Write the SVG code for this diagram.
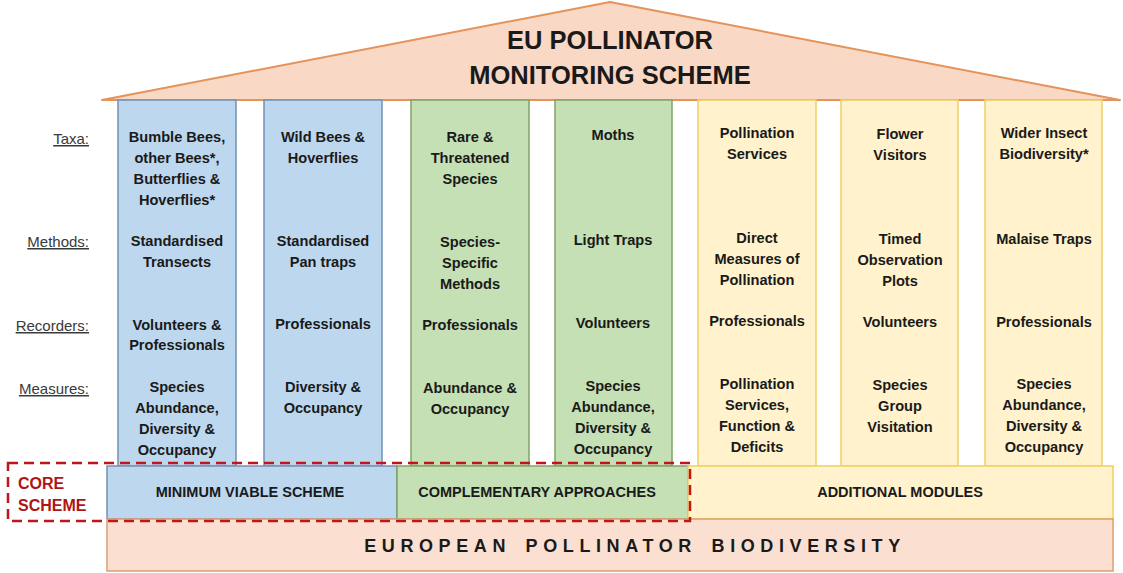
<svg xmlns="http://www.w3.org/2000/svg" width="1123" height="573" viewBox="0 0 1123 573">
<style>
.t{font-family:"Liberation Sans",Arial,sans-serif;font-weight:bold;font-size:14.6px;fill:#1a1a1a;text-anchor:middle}
.title{font-size:25.5px}
.base{font-size:18px;letter-spacing:5.6px;word-spacing:4px}
.core{font-size:16px;text-anchor:start;fill:#B01515}
.lab{font-family:"Liberation Sans",Arial,sans-serif;font-size:15px;fill:#3a3a3a;text-anchor:end;text-decoration:underline}
.bar{font-family:"Liberation Sans",Arial,sans-serif;font-weight:bold;font-size:14.5px;fill:#1a1a1a;text-anchor:middle}
.blue{fill:#BDD7EE;stroke:#7391B5;stroke-width:1.5}
.green{fill:#C5E0B4;stroke:#7EA566;stroke-width:1.5}
.yellow{fill:#FFF2CC;stroke:#F2CF62;stroke-width:1.5}
.peach{fill:#FBE0D2;stroke:#D9A070;stroke-width:1.5}
</style>
<rect width="1123" height="573" fill="#ffffff"/>
<g id="roof">
<polygon points="102,100 610,2 1120,100" fill="#F9D8C5" stroke="#E4935B" stroke-width="2" stroke-linejoin="round"/>
<text class="t title" x="610" y="49">EU POLLINATOR</text>
<text class="t title" x="610" y="84">MONITORING SCHEME</text>
</g>
<g id="row-labels">
<text class="lab" x="89" y="144">Taxa:</text>
<text class="lab" x="89" y="247">Methods:</text>
<text class="lab" x="89" y="331">Recorders:</text>
<text class="lab" x="89" y="394">Measures:</text>
</g>
<g id="pillar1">
<rect class="blue" x="118" y="100" width="118" height="366"/>
<text class="t" x="177" y="142">Bumble Bees,</text>
<text class="t" x="177" y="163">other Bees*,</text>
<text class="t" x="177" y="184">Butterflies &amp;</text>
<text class="t" x="177" y="205">Hoverflies*</text>
<text class="t" x="177" y="246">Standardised</text>
<text class="t" x="177" y="267">Transects</text>
<text class="t" x="177" y="330">Volunteers &amp;</text>
<text class="t" x="177" y="350">Professionals</text>
<text class="t" x="177" y="392">Species</text>
<text class="t" x="177" y="413">Abundance,</text>
<text class="t" x="177" y="434">Diversity &amp;</text>
<text class="t" x="177" y="455">Occupancy</text>
</g>
<g id="pillar2">
<rect class="blue" x="264" y="100" width="118" height="366"/>
<text class="t" x="323" y="142">Wild Bees &amp;</text>
<text class="t" x="323" y="163">Hoverflies</text>
<text class="t" x="323" y="246">Standardised</text>
<text class="t" x="323" y="267">Pan traps</text>
<text class="t" x="323" y="329">Professionals</text>
<text class="t" x="323" y="392">Diversity &amp;</text>
<text class="t" x="323" y="413">Occupancy</text>
</g>
<g id="pillar3">
<rect class="green" x="411" y="100" width="118" height="366"/>
<text class="t" x="470" y="142">Rare &amp;</text>
<text class="t" x="470" y="163">Threatened</text>
<text class="t" x="470" y="184">Species</text>
<text class="t" x="470" y="247">Species-</text>
<text class="t" x="470" y="268">Specific</text>
<text class="t" x="470" y="289">Methods</text>
<text class="t" x="470" y="330">Professionals</text>
<text class="t" x="470" y="393">Abundance &amp;</text>
<text class="t" x="470" y="414">Occupancy</text>
</g>
<g id="pillar4">
<rect class="green" x="555" y="100" width="117" height="366"/>
<text class="t" x="613" y="140">Moths</text>
<text class="t" x="613" y="245">Light Traps</text>
<text class="t" x="613" y="328">Volunteers</text>
<text class="t" x="613" y="391">Species</text>
<text class="t" x="613" y="412">Abundance,</text>
<text class="t" x="613" y="433">Diversity &amp;</text>
<text class="t" x="613" y="454">Occupancy</text>
</g>
<g id="pillar5">
<rect class="yellow" x="698" y="100" width="118" height="366"/>
<text class="t" x="757" y="138">Pollination</text>
<text class="t" x="757" y="159">Services</text>
<text class="t" x="757" y="243">Direct</text>
<text class="t" x="757" y="264">Measures of</text>
<text class="t" x="757" y="285">Pollination</text>
<text class="t" x="757" y="326">Professionals</text>
<text class="t" x="757" y="389">Pollination</text>
<text class="t" x="757" y="410">Services,</text>
<text class="t" x="757" y="431">Function &amp;</text>
<text class="t" x="757" y="452">Deficits</text>
</g>
<g id="pillar6">
<rect class="yellow" x="841" y="100" width="117" height="366"/>
<text class="t" x="900" y="139">Flower</text>
<text class="t" x="900" y="160">Visitors</text>
<text class="t" x="900" y="244">Timed</text>
<text class="t" x="900" y="265">Observation</text>
<text class="t" x="900" y="286">Plots</text>
<text class="t" x="900" y="327">Volunteers</text>
<text class="t" x="900" y="390">Species</text>
<text class="t" x="900" y="411">Group</text>
<text class="t" x="900" y="432">Visitation</text>
</g>
<g id="pillar7">
<rect class="yellow" x="985" y="100" width="117" height="366"/>
<text class="t" x="1044" y="138">Wider Insect</text>
<text class="t" x="1044" y="159">Biodiversity*</text>
<text class="t" x="1044" y="244">Malaise Traps</text>
<text class="t" x="1044" y="327">Professionals</text>
<text class="t" x="1044" y="389">Species</text>
<text class="t" x="1044" y="410">Abundance,</text>
<text class="t" x="1044" y="431">Diversity &amp;</text>
<text class="t" x="1044" y="452">Occupancy</text>
</g>
<g id="minimum-viable-scheme">
<rect class="blue" x="107" y="466" width="290" height="53"/>
<text class="bar" x="250" y="497">MINIMUM VIABLE SCHEME</text>
</g>
<g id="complementary-approaches">
<rect class="green" x="397" y="466" width="291" height="53"/>
<text class="bar" x="537" y="497">COMPLEMENTARY APPROACHES</text>
</g>
<g id="additional-modules">
<rect class="yellow" x="688" y="466" width="425" height="53"/>
<text class="bar" x="900" y="497">ADDITIONAL MODULES</text>
</g>
<g id="european-pollinator-biodiversity">
<rect class="peach" x="107" y="519" width="1006" height="52"/>
<text class="t base" x="635" y="552">EUROPEAN POLLINATOR BIODIVERSITY</text>
</g>
<g id="core-scheme">
<rect x="8" y="463" width="682" height="58" fill="none" stroke="#C0161B" stroke-width="2.5" stroke-dasharray="10,6"/>
<text class="t core" x="18" y="489">CORE</text>
<text class="t core" x="18" y="511">SCHEME</text>
</g>
</svg>
